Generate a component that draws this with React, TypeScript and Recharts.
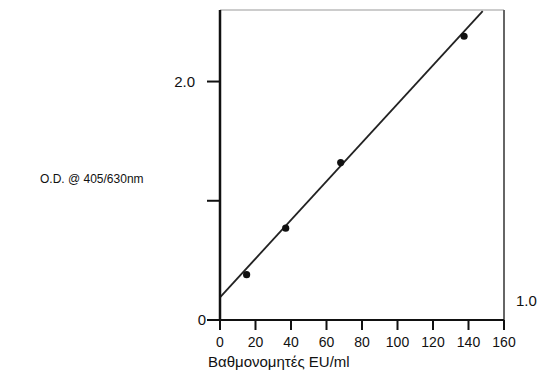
import { ComposedChart, Line, Scatter, XAxis, YAxis, ReferenceLine } from 'recharts';

const xTicks = [0, 20, 40, 60, 80, 100, 120, 140, 160];
const yTicks = [0, 1, 2];
const yTickLabels = ['0', '', '2.0'];

// calibrators (EU/ml) and measured O.D.
const calibrators = [
  { x: 15, y: 0.38 },
  { x: 37, y: 0.77 },
  { x: 68, y: 1.32 },
  { x: 137.5, y: 2.38 },
];

// fitted standard curve
const fitLine = [
  { x: 0, y: 0.19 },
  { x: 148, y: 2.59 },
];

const font = '"Liberation Sans", Arial, sans-serif';

const YTick = (props: any) => {
  const { x, y, payload } = props;
  const label = yTickLabels[yTicks.indexOf(payload.value)] ?? '';
  const gap = payload.value === 0 ? 1 : 12;
  return (
    <text x={x - gap} y={y} dy={5} textAnchor="end" fontSize={15} fill="#111" fontFamily={font}>
      {label}
    </text>
  );
};

export default function App() {
  return (
    <div style={{ position: 'absolute', left: 0, top: 0, width: 540, height: 375, background: '#fff', fontFamily: font }}>
      <ComposedChart width={540} height={375} margin={{ top: 10, right: 36, bottom: 0, left: 0 }}>
        <XAxis
          type="number"
          dataKey="x"
          domain={[0, 160]}
          ticks={xTicks}
          interval={0}
          height={55}
          tickSize={10}
          tickMargin={7}
          axisLine={{ stroke: '#111', strokeWidth: 2 }}
          tickLine={{ stroke: '#111', strokeWidth: 2 }}
          tick={{ fill: '#111', fontSize: 14, fontFamily: font }}
        />
        <YAxis
          type="number"
          dataKey="y"
          domain={[0, 2.6]}
          ticks={yTicks}
          interval={0}
          width={220}
          tickSize={13}
          tickMargin={0}
          axisLine={{ stroke: '#111', strokeWidth: 2.5 }}
          tickLine={{ stroke: '#111', strokeWidth: 2 }}
          tick={<YTick />}
        />
        <ReferenceLine y={2.6} stroke="#999" strokeWidth={1} ifOverflow="extendDomain" />
        <ReferenceLine x={160} stroke="#666" strokeWidth={2} />
        <Line
          data={fitLine}
          dataKey="y"
          type="linear"
          stroke="#222"
          strokeWidth={1.8}
          dot={false}
          activeDot={false}
          isAnimationActive={false}
        />
        <Scatter
          data={calibrators}
          dataKey="y"
          fill="#111"
          isAnimationActive={false}
          shape={(p: any) => <circle cx={p.cx} cy={p.cy} r={3.6} fill="#111" />}
        />
      </ComposedChart>
      <div style={{ position: 'absolute', left: 40, top: 172, fontSize: 12, color: '#111', whiteSpace: 'nowrap' }}>
        O.D. @ 405/630nm
      </div>
      <div style={{ position: 'absolute', left: 516, top: 292, fontSize: 15, color: '#111' }}>1.0</div>
      <div style={{ position: 'absolute', left: 208, top: 353, fontSize: 15, color: '#111', whiteSpace: 'nowrap' }}>
        Βαθμονομητές EU/ml
      </div>
    </div>
  );
}
